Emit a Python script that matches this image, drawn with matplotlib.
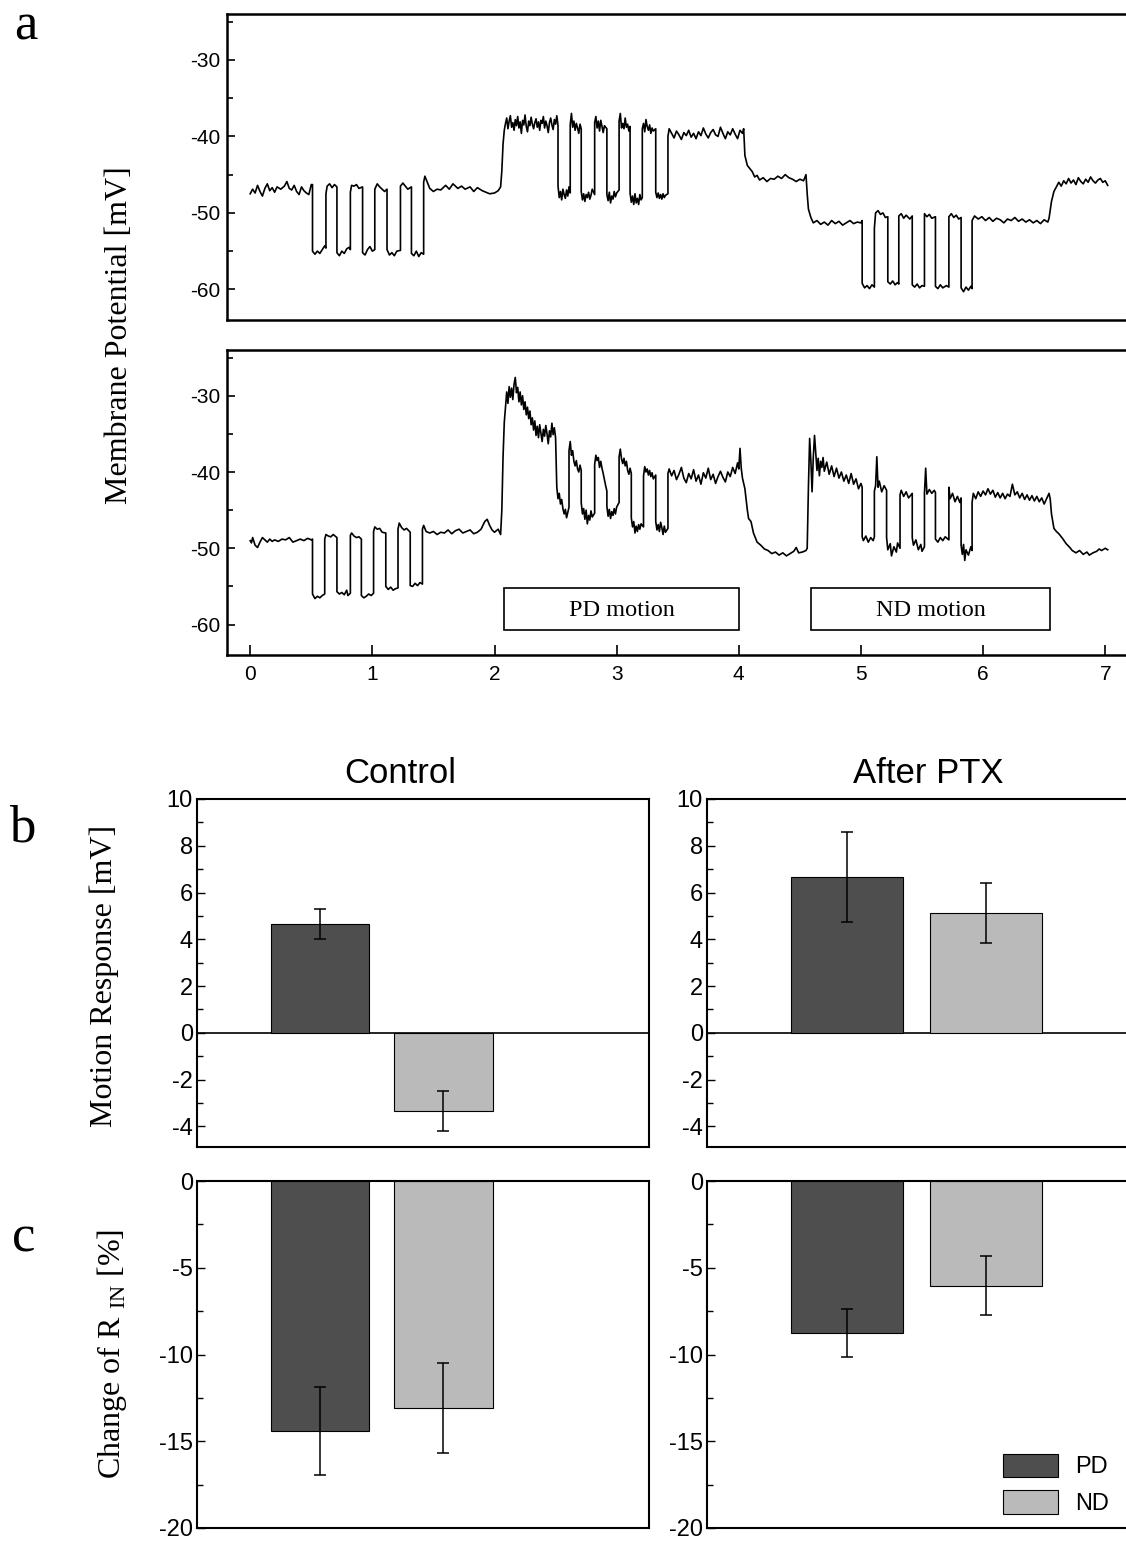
import matplotlib
matplotlib.use("Agg")
import matplotlib.pyplot as plt
from matplotlib.ticker import MultipleLocator

plt.rcParams["font.family"] = "Liberation Sans"
plt.rcParams["axes.unicode_minus"] = False
plt.rcParams["mathtext.fontset"] = "custom"
plt.rcParams["mathtext.rm"] = "Liberation Serif"

# ---- panel a: membrane potential traces ----
t_top = [0.00, 0.02, 0.04, 0.06, 0.08, 0.10, 0.12, 0.14, 0.16, 0.18, 0.20, 0.22, 0.25, 0.28, 0.30, 0.32, 0.34,
         0.36, 0.38, 0.40, 0.42, 0.44, 0.46, 0.48, 0.50,
         0.51, 0.51, 0.53, 0.55, 0.57, 0.59, 0.61, 0.62,
         0.62, 0.63, 0.65, 0.67, 0.69, 0.71,
         0.71, 0.73, 0.75, 0.77, 0.79, 0.81, 0.82,
         0.82, 0.83, 0.85, 0.87, 0.89, 0.92,
         0.92, 0.94, 0.96, 0.98, 1.00, 1.02,
         1.02, 1.04, 1.06, 1.08, 1.10, 1.12,
         1.12, 1.14, 1.16, 1.18, 1.20, 1.23,
         1.23, 1.25, 1.27, 1.29, 1.32,
         1.32, 1.34, 1.36, 1.38, 1.40, 1.42,
         1.42, 1.43, 1.45, 1.47, 1.50, 1.53, 1.56, 1.60, 1.63, 1.66, 1.70, 1.73, 1.76, 1.80, 1.83, 1.86,
         1.90, 1.93, 1.96, 2.00, 2.03, 2.05,
         2.06, 2.07, 2.08, 2.09, 2.10, 2.11, 2.12, 2.13, 2.14, 2.15, 2.16, 2.17, 2.18, 2.19, 2.20, 2.21,
         2.22, 2.23, 2.24, 2.25, 2.26, 2.27, 2.28, 2.29, 2.30, 2.31, 2.32, 2.33, 2.34, 2.35, 2.36, 2.37,
         2.38, 2.39, 2.40, 2.41, 2.42, 2.43, 2.44, 2.45, 2.46, 2.47, 2.48, 2.49, 2.50, 2.51, 2.52,
         2.52, 2.53, 2.54, 2.55, 2.56, 2.57, 2.58, 2.59, 2.60, 2.61, 2.62,
         2.62, 2.63, 2.64, 2.65, 2.66, 2.67, 2.68, 2.69, 2.70, 2.71,
         2.71, 2.72, 2.73, 2.74, 2.75, 2.76, 2.77, 2.78, 2.79, 2.80, 2.82,
         2.82, 2.83, 2.84, 2.85, 2.86, 2.87, 2.88, 2.89, 2.90, 2.92,
         2.92, 2.93, 2.94, 2.95, 2.96, 2.97, 2.98, 2.99, 3.00, 3.02,
         3.02, 3.03, 3.04, 3.05, 3.06, 3.07, 3.08, 3.09, 3.10, 3.11,
         3.11, 3.12, 3.13, 3.14, 3.15, 3.16, 3.17, 3.18, 3.19, 3.20, 3.21,
         3.21, 3.22, 3.23, 3.24, 3.25, 3.26, 3.27, 3.28, 3.29, 3.30, 3.32,
         3.32, 3.33, 3.34, 3.35, 3.36, 3.37, 3.38, 3.39, 3.40, 3.42,
         3.42, 3.43, 3.45, 3.47, 3.49, 3.51, 3.53, 3.55, 3.57, 3.59, 3.61, 3.63, 3.65, 3.67, 3.69, 3.71,
         3.73, 3.75, 3.77, 3.79, 3.81, 3.83, 3.85, 3.87, 3.89, 3.91, 3.93, 3.95, 3.97, 3.99, 4.01, 4.03, 4.04,
         4.05, 4.07, 4.09, 4.11, 4.13, 4.15, 4.17, 4.20, 4.23, 4.26, 4.29, 4.32, 4.35, 4.38, 4.41, 4.44,
         4.47, 4.50, 4.53, 4.55,
         4.56, 4.57, 4.59, 4.61, 4.64, 4.67, 4.70, 4.73, 4.76, 4.79, 4.82, 4.85, 4.88, 4.91, 4.94, 4.97,
         5.00, 5.01,
         5.01, 5.03, 5.05, 5.07, 5.09, 5.11,
         5.11, 5.12, 5.14, 5.16, 5.18, 5.20, 5.22,
         5.22, 5.24, 5.26, 5.28, 5.30, 5.31,
         5.31, 5.33, 5.35, 5.37, 5.40, 5.42,
         5.42, 5.44, 5.46, 5.48, 5.50, 5.52,
         5.52, 5.54, 5.56, 5.58, 5.61,
         5.61, 5.63, 5.65, 5.67, 5.70, 5.72,
         5.72, 5.74, 5.76, 5.78, 5.80, 5.82,
         5.82, 5.84, 5.86, 5.88, 5.90, 5.91,
         5.91, 5.93, 5.96, 5.99, 6.02, 6.05, 6.08, 6.11, 6.14, 6.17, 6.20, 6.23, 6.26, 6.29, 6.32, 6.35,
         6.38, 6.41, 6.44, 6.47, 6.50, 6.53, 6.54,
         6.56, 6.58, 6.60, 6.62, 6.64, 6.66, 6.68, 6.70, 6.72, 6.74, 6.76, 6.78, 6.80, 6.82, 6.84, 6.86,
         6.88, 6.90, 6.92, 6.94, 6.96, 6.98, 7.00, 7.02]
v_top = [-47.5, -46.9, -47.4, -46.4, -47.2, -47.8, -46.8, -46.2, -47.1, -46.7, -47.3, -46.6, -46.9, -46.5, -45.9,
         -46.8, -47.0, -46.4, -47.2, -47.6, -46.6, -47.1, -47.4, -47.6, -46.3,
         -46.3, -55.0, -55.4, -55.0, -55.3, -54.8, -54.3, -54.6,
         -47.5, -46.5, -46.2, -46.7, -46.3, -46.6,
         -55.2, -55.6, -55.0, -55.3, -54.7, -54.5, -54.8,
         -47.3, -46.4, -46.5, -46.3, -46.8, -46.6,
         -55.2, -55.5, -54.8, -54.4, -55.0, -54.8,
         -46.9, -46.2, -46.6, -46.9, -47.2, -46.9,
         -54.8, -55.5, -55.2, -55.6, -55.0, -54.9,
         -46.5, -46.1, -46.5, -46.9, -46.6,
         -55.3, -55.6, -55.0, -55.7, -55.2, -55.4,
         -46.0, -45.2, -46.0, -46.8, -47.2, -46.9, -47.0, -46.4, -46.9, -46.2, -46.8, -46.5, -46.9, -46.6,
         -47.2, -46.7, -47.1, -47.3, -47.5, -47.4, -47.1, -46.6,
         -44.5, -41.0, -39.2, -38.3, -37.6, -39.0, -38.0, -37.3, -38.8, -38.2, -39.2, -37.8, -38.6, -37.4,
         -38.9, -38.1, -39.6, -37.9, -38.5, -37.2, -38.7, -39.4, -38.0, -38.6, -37.5, -38.4, -39.0, -38.2,
         -37.7, -38.8, -38.1, -39.2, -37.9, -38.3, -37.4, -38.9, -38.0, -38.6, -39.5, -38.2, -37.6, -38.5,
         -39.1, -37.8, -38.4, -37.3, -38.6,
         -46.5, -48.0, -47.2, -48.3, -46.9, -47.6, -48.1, -47.0, -47.8, -46.6, -47.4,
         -38.5, -37.0, -38.8, -38.0, -39.2, -38.3, -38.9, -39.6, -38.4, -39.0,
         -47.2, -48.3, -47.5, -48.5, -47.6, -48.0, -47.3, -48.2, -47.7, -46.9, -47.6,
         -38.2, -37.4, -38.9, -38.0, -39.3, -37.9, -38.7, -39.5, -38.6, -39.0,
         -47.6, -48.4, -47.3, -48.7, -47.8, -48.2, -47.2, -47.9, -47.4, -47.0,
         -38.0, -37.0, -38.9, -38.3, -39.0, -37.6, -38.8, -38.4, -39.3, -38.7,
         -47.4, -48.6, -47.8, -48.9, -47.5, -48.7, -48.1, -48.9, -47.6, -48.3, -48.0,
         -39.0, -38.3, -39.4, -37.8, -38.7, -39.2, -38.5, -39.6, -38.9, -39.3, -39.0,
         -47.3, -48.0, -47.4, -48.1, -47.6, -48.2, -47.5, -48.0, -47.7, -47.5,
         -40.0, -39.0, -39.6, -40.2, -39.3, -39.8, -40.4, -39.5, -39.9, -39.2, -40.1, -39.6, -40.3, -39.4,
         -39.9, -38.9, -39.7, -40.2, -39.5, -39.1, -39.8, -40.0, -38.8, -39.6, -40.3, -39.4, -39.8, -39.0,
         -39.7, -40.3, -39.2, -39.6, -39.0,
         -42.5, -43.8, -44.2, -44.6, -45.3, -45.1, -45.7, -45.4, -45.9, -45.5, -45.6, -45.2, -45.5, -45.0,
         -45.4, -45.6, -45.9, -45.6, -45.8, -45.0,
         -47.5, -49.5, -50.6, -51.3, -51.0, -51.5, -51.2, -51.6, -51.0, -51.4, -51.1, -51.6, -51.3, -51.0,
         -51.4, -51.2, -51.3, -51.0,
         -59.2, -59.8, -59.5, -59.9, -59.4, -59.7,
         -52.0, -50.0, -49.7, -50.2, -50.0, -50.6, -50.5,
         -59.0, -59.3, -58.9, -59.4, -59.1, -59.3,
         -50.4, -50.1, -50.7, -50.3, -50.8, -50.4,
         -59.4, -59.7, -59.3, -59.8, -59.5, -59.6,
         -50.1, -50.5, -50.2, -50.7, -50.5,
         -59.6, -59.9, -59.4, -59.8, -59.5, -59.7,
         -50.5, -50.1, -50.6, -50.3, -50.8, -50.6,
         -59.8, -60.3, -59.7, -60.1, -59.6, -59.9,
         -51.0, -50.4, -50.8, -50.5, -51.0, -50.6, -51.1, -50.7, -50.9, -51.3, -50.8, -51.0, -50.6, -51.1,
         -50.8, -51.2, -50.9, -51.3, -51.0, -51.4, -50.9, -51.2, -50.7,
         -48.5, -47.2, -46.6, -46.0, -46.5, -45.8, -46.2, -45.5, -46.1, -45.7, -46.3, -45.4, -45.9, -46.2,
         -45.6, -46.0, -45.3, -45.8, -46.1, -45.7, -45.5, -46.0, -45.8, -46.4]

t_bot = [0.00, 0.01, 0.02, 0.04, 0.06, 0.08, 0.10, 0.12, 0.14, 0.16, 0.18, 0.20, 0.23, 0.26, 0.29, 0.32, 0.35,
         0.38, 0.41, 0.44, 0.47, 0.50, 0.51,
         0.51, 0.53, 0.55, 0.57, 0.59, 0.61,
         0.61, 0.62, 0.64, 0.66, 0.68, 0.71,
         0.71, 0.73, 0.75, 0.77, 0.79, 0.80, 0.82,
         0.82, 0.83, 0.85, 0.87, 0.89, 0.91,
         0.91, 0.93, 0.95, 0.97, 0.99, 1.01,
         1.01, 1.02, 1.04, 1.06, 1.08, 1.11,
         1.11, 1.13, 1.15, 1.17, 1.19, 1.21,
         1.21, 1.22, 1.24, 1.26, 1.28, 1.31,
         1.31, 1.33, 1.35, 1.37, 1.39, 1.41,
         1.41, 1.42, 1.44, 1.47, 1.50, 1.53, 1.56, 1.59, 1.62, 1.65, 1.68, 1.71, 1.74, 1.77, 1.80, 1.83,
         1.86, 1.89, 1.92, 1.94, 1.96, 1.98, 2.00, 2.03, 2.05,
         2.06, 2.07, 2.08, 2.09, 2.10, 2.11, 2.12, 2.13, 2.14, 2.15, 2.16, 2.17, 2.18, 2.19, 2.20, 2.21,
         2.22, 2.23, 2.24, 2.25, 2.26, 2.27, 2.28, 2.29, 2.30, 2.31, 2.32, 2.33, 2.34, 2.35, 2.36, 2.37,
         2.38, 2.39, 2.40, 2.41, 2.42, 2.43, 2.44, 2.45, 2.46, 2.47, 2.48, 2.49, 2.50,
         2.51, 2.52, 2.53, 2.54, 2.55, 2.56, 2.57, 2.58, 2.59, 2.60, 2.61,
         2.61, 2.62, 2.63, 2.64, 2.65, 2.66, 2.67, 2.68, 2.69, 2.70, 2.71,
         2.71, 2.72, 2.73, 2.74, 2.75, 2.76, 2.77, 2.78, 2.79, 2.80, 2.82,
         2.82, 2.83, 2.84, 2.85, 2.86, 2.87, 2.88, 2.89, 2.90, 2.91, 2.92,
         2.92, 2.93, 2.94, 2.95, 2.96, 2.97, 2.98, 2.99, 3.00, 3.02,
         3.02, 3.03, 3.04, 3.05, 3.06, 3.07, 3.08, 3.09, 3.10, 3.11, 3.12,
         3.12, 3.13, 3.14, 3.15, 3.16, 3.17, 3.18, 3.19, 3.20, 3.22,
         3.22, 3.23, 3.24, 3.25, 3.26, 3.27, 3.28, 3.29, 3.30, 3.32,
         3.32, 3.33, 3.34, 3.35, 3.36, 3.37, 3.38, 3.39, 3.40, 3.42,
         3.42, 3.43, 3.45, 3.47, 3.49, 3.51, 3.53, 3.55, 3.57, 3.59, 3.61, 3.63, 3.65, 3.67, 3.69, 3.71,
         3.73, 3.75, 3.77, 3.79, 3.81, 3.83, 3.85, 3.87, 3.89, 3.91, 3.93, 3.95, 3.97, 3.99, 4.00, 4.01,
         4.02, 4.03, 4.05, 4.07, 4.08, 4.10, 4.12, 4.15, 4.18, 4.21, 4.24, 4.27, 4.30, 4.33, 4.36, 4.39,
         4.42, 4.45, 4.47, 4.49, 4.52, 4.55, 4.56,
         4.57, 4.58, 4.59, 4.60, 4.61, 4.62, 4.63, 4.64, 4.65, 4.66, 4.67, 4.68, 4.69, 4.70, 4.72, 4.74,
         4.76, 4.78, 4.80, 4.82, 4.84, 4.86, 4.88, 4.90, 4.92, 4.94, 4.96, 4.98, 5.00, 5.01,
         5.01, 5.02, 5.04, 5.06, 5.08, 5.10, 5.11,
         5.11, 5.12, 5.13, 5.14, 5.15, 5.17, 5.19, 5.21,
         5.21, 5.22, 5.24, 5.25, 5.27, 5.29, 5.30, 5.32,
         5.32, 5.33, 5.35, 5.37, 5.39, 5.42,
         5.42, 5.43, 5.45, 5.47, 5.49, 5.50, 5.52,
         5.52, 5.53, 5.54, 5.56, 5.58, 5.60, 5.61,
         5.61, 5.63, 5.65, 5.67, 5.69, 5.72,
         5.72, 5.73, 5.75, 5.77, 5.79, 5.81, 5.82,
         5.82, 5.83, 5.84, 5.85, 5.86, 5.88, 5.90, 5.91,
         5.91, 5.92, 5.94, 5.96, 5.98, 6.00, 6.02, 6.04, 6.06, 6.08, 6.10, 6.12, 6.14, 6.16, 6.18, 6.20,
         6.22, 6.24, 6.26, 6.28, 6.30, 6.32, 6.34, 6.36, 6.38, 6.40, 6.42, 6.44, 6.46, 6.48, 6.50, 6.52,
         6.54, 6.55,
         6.56, 6.58, 6.60, 6.62, 6.65, 6.68, 6.71, 6.73, 6.76, 6.79, 6.82, 6.85, 6.87, 6.90, 6.93, 6.95,
         6.97, 7.00, 7.02]
v_bot = [-49.0, -49.3, -48.6, -49.6, -49.9, -49.2, -48.6, -48.9, -49.2, -48.8, -49.1, -48.9, -49.1, -48.8, -48.9,
         -48.6, -49.2, -49.0, -48.8, -49.0, -48.7, -48.9, -48.8,
         -56.0, -56.6, -56.3, -56.5, -56.2, -56.0,
         -48.8, -48.2, -48.4, -48.5, -48.2, -48.6,
         -55.7, -56.0, -55.8, -56.1, -55.5, -56.2, -55.9,
         -48.3, -48.0, -48.4, -48.6, -48.5, -48.8,
         -56.2, -56.5, -56.3, -56.0, -56.2, -55.9,
         -47.8, -47.2, -47.5, -47.4, -47.9, -48.0,
         -55.0, -55.4, -55.1, -55.5, -55.3, -55.2,
         -47.5, -46.7, -47.3, -47.6, -47.4, -47.9,
         -54.9, -55.0, -54.6, -54.9, -54.5, -54.7,
         -47.5, -47.0, -47.8, -48.0, -47.8, -48.2, -47.9, -48.0, -47.6, -48.1, -47.7, -47.5, -48.0, -47.8,
         -47.6, -48.1, -47.9, -47.5, -46.5, -46.2, -47.0, -47.6, -47.9, -47.5, -48.2,
         -45.0, -38.0, -33.5, -31.5, -29.5, -31.0, -28.8, -30.2, -29.0, -30.5, -28.5, -27.6, -29.6, -28.9,
         -30.8, -29.5, -31.2, -30.0, -31.8, -30.8, -32.5, -31.5, -33.0, -32.0, -33.8, -32.9, -34.5, -33.3,
         -35.2, -34.0, -35.5, -33.8, -34.9, -36.0, -34.4, -35.3, -33.9, -35.0, -36.3, -34.6, -35.4, -33.6,
         -35.1, -34.2, -35.5,
         -42.0, -43.5, -42.8, -44.2, -43.6, -44.8, -45.5, -44.9, -46.0, -45.3, -44.6,
         -37.2, -36.0, -37.8, -37.2, -38.6, -39.2, -38.5, -39.6, -40.0, -39.1, -39.8,
         -44.0, -45.5, -44.8, -46.2, -45.0, -46.8, -45.7, -46.3, -45.1, -45.9, -45.4,
         -39.0, -37.8, -38.5, -38.1, -39.4, -38.6, -39.5, -40.2, -41.0, -41.8, -42.5,
         -44.5, -45.8, -44.9, -46.1, -45.2, -45.7, -44.8, -45.5, -44.6, -44.0,
         -38.0, -37.0, -38.3, -38.9, -38.2, -39.2, -38.6, -39.8, -40.3, -39.5, -40.2,
         -46.0, -47.2, -46.5, -48.0, -47.1, -47.8, -46.9, -47.5, -46.8, -47.2,
         -40.5, -39.3, -40.0, -39.6, -40.4, -39.8, -40.6, -40.1, -40.9, -40.4,
         -46.5, -47.6, -46.9, -47.8, -46.6, -47.3, -48.2, -47.1, -47.9, -47.4,
         -40.2, -39.6, -40.5, -39.8, -41.0, -40.3, -39.4, -40.8, -41.4, -40.2, -40.9, -39.7, -41.2, -40.4,
         -41.6, -40.1, -40.8, -39.5, -41.0, -40.3, -41.5, -40.6, -39.9, -40.7, -41.3, -40.0, -40.6, -39.4,
         -40.2, -38.8, -39.6, -36.9,
         -39.5, -40.8, -42.2, -45.0, -46.1, -46.5, -48.0, -49.2, -49.6, -50.1, -50.3, -50.7, -50.5, -50.9,
         -50.6, -51.0, -50.7, -50.4, -49.9, -50.6, -50.5, -50.3, -50.0,
         -42.0, -35.6, -38.5, -42.6, -38.0, -35.2, -37.5, -39.8, -38.2, -40.5, -38.6, -39.4, -38.1, -39.9,
         -38.7, -40.3, -39.2, -40.6, -39.5, -40.8, -40.0, -41.2, -40.4, -41.5, -40.2, -41.6, -40.9, -42.2,
         -41.5, -42.0,
         -48.5, -49.0, -48.4, -49.2, -48.6, -49.0, -48.5,
         -42.5, -41.8, -38.0, -42.0, -41.2, -42.6, -41.8, -42.4,
         -48.6, -50.2, -49.4, -51.0, -49.8, -50.5, -49.3, -50.0,
         -43.0, -42.4, -43.2, -42.6, -43.4, -42.8,
         -48.6, -49.6, -48.9, -50.2, -49.5, -50.4, -49.8,
         -42.8, -39.5, -42.9, -42.3, -42.8, -42.4, -42.7,
         -48.8, -49.2, -48.6, -49.0, -48.5, -48.9,
         -42.0, -43.5, -42.8, -43.9, -43.2, -44.0, -43.4,
         -49.6, -50.8, -49.5, -51.6, -50.2, -50.9, -49.8, -50.3,
         -44.0, -42.8, -43.5, -42.6, -43.2, -42.5, -43.0, -42.2, -42.9, -42.4, -43.3, -42.7, -43.4, -42.8,
         -43.5, -42.9, -43.2, -41.6, -43.0, -42.6, -43.4, -42.8, -43.6, -43.0, -43.7, -43.1, -43.8, -43.2,
         -43.9, -43.4, -44.2, -43.5, -42.8, -43.6,
         -45.5, -47.4, -47.8, -48.1, -48.7, -49.4, -49.9, -50.3, -50.6, -50.3, -50.8, -50.5, -50.9, -50.6,
         -50.4, -50.1, -50.3, -50.0, -50.2]

stim_labels = ["PD motion", "ND motion"]
stim_start = [2.08, 4.59]
stim_end = [4.00, 6.55]
stim_low, stim_high = -60.7, -55.2

# ---- panels b and c: bar data ----
groups = ["Control", "After PTX"]
conds = ["PD", "ND"]
resp_mean = {"Control": [4.65, -3.35], "After PTX": [6.65, 5.12]}
resp_err = {"Control": [0.65, 0.85], "After PTX": [1.92, 1.29]}
rin_mean = {"Control": [-14.4, -13.1], "After PTX": [-8.75, -6.05]}
rin_err = {"Control": [2.53, 2.6], "After PTX": [1.38, 1.7]}
bar_colors = ["#4e4e4e", "#bababa"]

W, H = 1126, 1543
fig = plt.figure(figsize=(W / 100, H / 100), dpi=100)


def box(l, t, r, b):
    return [l / W, 1 - b / H, (r - l) / W, (b - t) / H]


def style_trace_axes(ax):
    ax.set_xlim(-0.19, 7.17)
    ax.set_ylim(-64, -24)
    ax.yaxis.set_major_locator(MultipleLocator(10))
    ax.yaxis.set_minor_locator(MultipleLocator(5))
    ax.tick_params(axis="y", which="both", direction="in", labelsize=15, length=6, width=1.2, pad=5)
    ax.tick_params(axis="y", which="minor", length=4)
    ax.spines["right"].set_visible(False)
    for s in ["left", "top", "bottom"]:
        ax.spines[s].set_linewidth(1.8)


ax1 = fig.add_axes(box(227, 14, 1126, 320))
ax1.plot(t_top, v_top, color="black", lw=1.2)
style_trace_axes(ax1)
ax1.set_xticks([])

ax2 = fig.add_axes(box(227, 350, 1126, 655))
ax2.plot(t_bot, v_bot, color="black", lw=1.2)
style_trace_axes(ax2)
ax2.set_xticks(range(8))
ax2.tick_params(axis="x", direction="in", labelsize=15, length=7, width=1.2, pad=7)
for lab, a, b in zip(stim_labels, stim_start, stim_end):
    ax2.add_patch(plt.Rectangle((a, stim_low), b - a, stim_high - stim_low, fill=False, ec="black", lw=1.2))
    ax2.text((a + b) / 2, (stim_low + stim_high) / 2 - 0.2, lab, ha="center", va="center",
             family="Liberation Serif", fontsize=17.5)

fig.text(120 / W, 1 - 335 / H, "Membrane Potential [mV]", rotation=90, ha="center", va="center",
         family="Liberation Serif", fontsize=23)


def style_bar_axes(ax, xmax):
    ax.set_xlim(0, xmax)
    ax.set_xticks([])
    ax.tick_params(axis="y", which="both", direction="in", labelsize=17, length=6, width=1.0, pad=3)
    ax.tick_params(axis="y", which="minor", length=4)
    for s in ax.spines.values():
        s.set_linewidth(1.5)


bar_axes = {
    "Control": (box(197, 799, 649, 1147), box(197, 1181, 649, 1528), 3.67),
    "After PTX": (box(707, 799, 1126, 1147), box(707, 1181, 1126, 1528), 3.0),
}

for g in groups:
    rb, rc, xmax = bar_axes[g]
    axb = fig.add_axes(rb)
    axb.bar([1, 2], resp_mean[g], width=0.8, color=bar_colors, edgecolor="black", linewidth=0.8, zorder=2)
    axb.errorbar([1, 2], resp_mean[g], yerr=resp_err[g], fmt="none", ecolor="black", elinewidth=1.1,
                 capsize=4.5, capthick=1.1, zorder=3)
    axb.axhline(0, color="black", lw=1.2, zorder=1)
    axb.set_ylim(-4.88, 10)
    axb.yaxis.set_major_locator(MultipleLocator(2))
    axb.yaxis.set_minor_locator(MultipleLocator(1))
    style_bar_axes(axb, xmax)

    axc = fig.add_axes(rc)
    bars = axc.bar([1, 2], rin_mean[g], width=0.8, color=bar_colors, edgecolor="black", linewidth=0.8,
                   zorder=2, label=conds)
    axc.errorbar([1, 2], rin_mean[g], yerr=rin_err[g], fmt="none", ecolor="black", elinewidth=1.1,
                 capsize=4.5, capthick=1.1, zorder=3)
    axc.set_ylim(-20, 0)
    axc.yaxis.set_major_locator(MultipleLocator(5))
    axc.yaxis.set_minor_locator(MultipleLocator(2.5))
    style_bar_axes(axc, xmax)

    if g == "After PTX":
        axb.spines["right"].set_visible(False)
        axc.spines["right"].set_visible(False)
        axc.legend(bars, conds, loc="lower right", bbox_to_anchor=(0.99, 0.0), frameon=False, fontsize=17,
                   handlelength=2.35, handleheight=1.15, labelspacing=0.5, handletextpad=0.7,
                   borderaxespad=0.15)

fig.text(400 / W, 1 - 773 / H, "Control", ha="center", va="center", fontsize=25)
fig.text(928 / W, 1 - 773 / H, "After PTX", ha="center", va="center", fontsize=25)

fig.text(104 / W, 1 - 976 / H, "Motion Response [mV]", rotation=90, ha="center", va="center",
         family="Liberation Serif", fontsize=23)
fig.text(112 / W, 1 - 1354 / H, r"Change of R $_{\mathrm{IN}}$ [%]", rotation=90, ha="center",
         va="center", family="Liberation Serif", fontsize=23)

for letter, x, y in [("a", 26, 26), ("b", 22, 828), ("c", 24, 1238)]:
    fig.text(x / W, 1 - y / H, letter, ha="center", va="center", family="Liberation Serif", fontsize=38)

fig.savefig("out.png", dpi=100)
